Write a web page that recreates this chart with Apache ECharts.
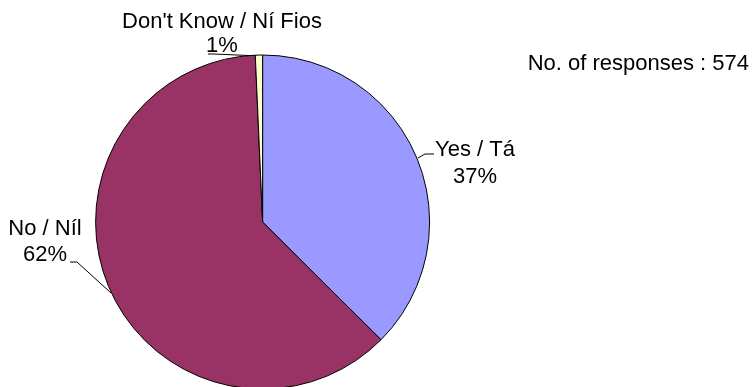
<!DOCTYPE html>
<html>
<head>
<meta charset="utf-8">
<script src="https://cdn.jsdelivr.net/npm/echarts@6/dist/echarts.min.js"></script>
<style>html,body{margin:0;padding:0;background:#fff;}#c{width:755px;height:387px;}</style>
</head>
<body>
<div id="c"></div>
<script>
var categories = ["Yes / Tá", "No / Níl", "Don't Know / Ní Fios"];
var counts = [215, 355, 4];
var percentLabels = ["37%", "62%", "1%"];
var colors = ["#9999FF", "#993366", "#FFFFCC"];
var totalResponses = 574;

var labelPos = [
  {x: 475, y: 163, lh: 27, line: [[418,158],[425,154],[434,154]]},
  {x: 45, y: 242, lh: 26, line: [[111,293],[77,262],[70,262]]},
  {x: 222, y: 34, lh: 24, line: [[260,56],[214,54],[208,54]]}
];

var chart = echarts.init(document.getElementById('c'), null, {renderer: 'canvas'});
var data = categories.map(function (c, i) {
  return {
    name: c,
    value: counts[i],
    itemStyle: {color: colors[i]},
    label: {lineHeight: labelPos[i].lh}
  };
});
chart.setOption({
  animation: false,
  backgroundColor: '#ffffff',
  title: {
    text: 'No. of responses : ' + totalResponses,
    right: 1, top: 48,
    textStyle: {fontFamily: 'Liberation Sans', fontSize: 22, fontWeight: 'normal', color: '#000'}
  },
  series: [{
    type: 'pie',
    center: [262.6, 222],
    radius: [0, 167],
    startAngle: 90,
    clockwise: true,
    avoidLabelOverlap: false,
    itemStyle: {borderColor: '#000', borderWidth: 1},
    label: {
      show: true,
      position: 'outside',
      fontFamily: 'Liberation Sans',
      fontSize: 22,
      color: '#000',
      align: 'center',
      formatter: function (p) { return p.name + '\n' + percentLabels[p.dataIndex]; }
    },
    labelLine: {show: true, lineStyle: {color: '#000', width: 1}},
    labelLayout: function (p) {
      var L = labelPos[p.dataIndex];
      return {x: L.x, y: L.y, align: 'center', verticalAlign: 'middle', labelLinePoints: L.line};
    },
    emphasis: {disabled: true},
    data: data
  }]
});
</script>
</body>
</html>
